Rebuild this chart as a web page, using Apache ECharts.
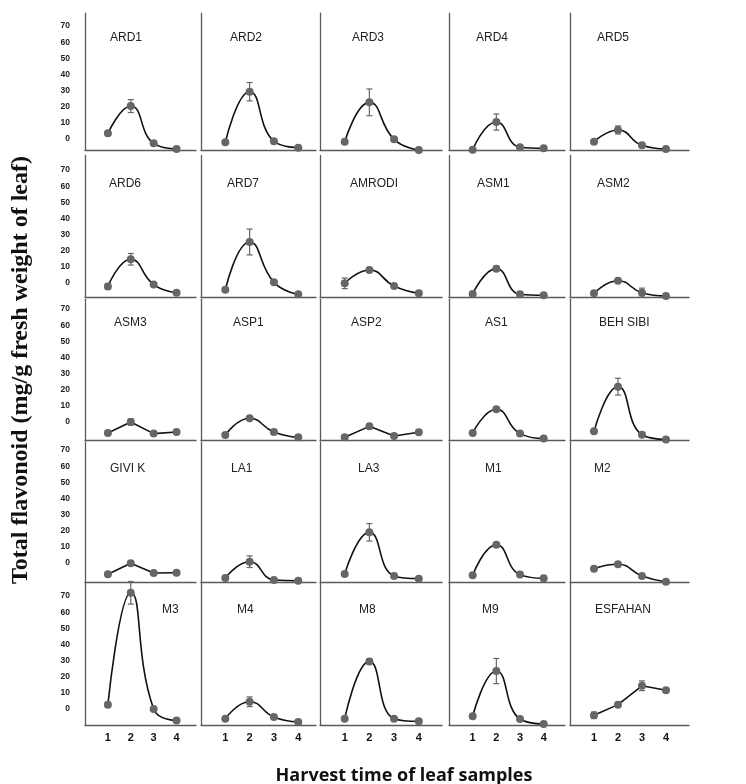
<!DOCTYPE html>
<html>
<head>
<meta charset="utf-8">
<script src="https://cdn.jsdelivr.net/npm/echarts@6/dist/echarts.min.js"></script>
<style>
  html, body { margin: 0; padding: 0; background: #fff; }
  #main { width: 746px; height: 784px; }
</style>
</head>
<body>
<div id="main"></div>
<script>
// cultivar names, row by row (5 x 5 panels)
var panelNames = [
  'ARD1', 'ARD2', 'ARD3', 'ARD4', 'ARD5',
  'ARD6', 'ARD7', 'AMRODI', 'ASM1', 'ASM2',
  'ASM3', 'ASP1', 'ASP2', 'AS1', 'BEH SIBI',
  'GIVI K', 'LA1', 'LA3', 'M1', 'M2',
  'M3', 'M4', 'M8', 'M9', 'ESFAHAN'
];
// harvest times 1..4
var harvestTimes = [1, 2, 3, 4];
// mean total flavonoid per panel (read against the printed tick labels)
var meanValues = [
  [3.5, 20.4, -2.7, -6.2],
  [-2, 29.3, -1.4, -5.4],
  [-1.7, 22.7, -0.2, -6.8],
  [-6.6, 10.5, -5.1, -5.8],
  [-1.7, 5.6, -3.9, -6.2],
  [-2.1, 14.7, -1, -6],
  [-4.2, 25.4, 0.4, -7],
  [-0.2, 8.1, -1.9, -6.4],
  [-6.8, 8.9, -7, -7.6],
  [-6.4, 1.4, -6, -8],
  [-6.8, 0, -7.2, -6.2],
  [-8, 2.3, -6.2, -9.5],
  [-9.5, -2.7, -8.7, -6.4],
  [-6.8, 7.9, -7.2, -10.3],
  [-5.8, 21.9, -7.9, -10.8],
  [-7, -0.2, -6.2, -6],
  [-9.3, 0.8, -10.5, -11],
  [-6.8, 19, -8, -9.7],
  [-7.6, 11.3, -7.2, -9.5],
  [-3.5, -0.8, -8, -11.6],
  [2.7, 72, 0, -7.2],
  [-6, 4.5, -5, -8],
  [-6, 29.5, -6, -7.6],
  [-4.5, 23.5, -6.2, -9.3],
  [-3.9, 2.7, 14.4, 11.6]
];
// standard error half-widths (0 = no visible bar)
var errValues = [
  [0, 4, 0, 0],
  [0, 5.7, 0, 0],
  [0, 8.3, 0, 0],
  [0, 5, 0, 0],
  [0, 2.5, 0, 0],
  [1.5, 3.6, 0, 0],
  [0, 8, 0, 0],
  [3.3, 0, 0, 0],
  [0, 1.5, 0, 0],
  [0, 1, 2.8, 0],
  [0, 2, 0, 0],
  [0, 1, 0, 0],
  [0, 0, 0, 0],
  [0, 0, 0, 0],
  [0, 5.2, 0, 0],
  [0, 0, 0, 0],
  [0, 3.6, 0, 0],
  [0, 5.4, 0, 0],
  [0, 0, 0, 0],
  [0, 0, 0, 0],
  [1.5, 7, 0, 0],
  [0, 3, 0, 0],
  [0, 1.5, 0, 0],
  [0, 7.8, 0, 0],
  [2, 1.5, 3, 0]
];
var yTickLabels = [0, 10, 20, 30, 40, 50, 60, 70];

// layout of the panel grid
var pxPerUnit = 1.614;
var rowZero = [139, 283, 422, 563, 709];
var rowMax = [78, 79, 76, 75, 78];
var rowMin = [-7, -9, -11, -12, -10];
var colLeft = [85, 201, 320, 449, 570];
var colWidth = [111, 115, 122, 116, 119];
var colXMax = [4.85, 4.73, 4.94, 4.9, 4.96];
var labelDx = [
  20, 24, 27, 22, 22,
  19, 21, 25, 23, 22,
  24, 27, 26, 31, 24,
  20, 25, 33, 31, 19,
  72, 31, 34, 28, 20
];
var rowLabelDy = [14, 17, 12, 16, 16];
var straightPanels = ['ASM3', 'ASP2', 'GIVI K', 'ESFAHAN'];

var chart = echarts.init(document.getElementById('main'));

var grids = [], xAxes = [], yAxes = [], series = [], titles = [];

function errorBar(params, api) {
  var x = api.value(0), m = api.value(1), e = api.value(2);
  var p1 = api.coord([x, m + e]);
  var p2 = api.coord([x, m - e]);
  var st = { stroke: '#666', lineWidth: 1.2 };
  return {
    type: 'group',
    children: [
      { type: 'line', shape: { x1: p1[0], y1: p1[1], x2: p2[0], y2: p2[1] }, style: st },
      { type: 'line', shape: { x1: p1[0] - 3, y1: p1[1], x2: p1[0] + 3, y2: p1[1] }, style: st },
      { type: 'line', shape: { x1: p2[0] - 3, y1: p2[1], x2: p2[0] + 3, y2: p2[1] }, style: st }
    ]
  };
}

for (var i = 0; i < panelNames.length; i++) {
  var r = Math.floor(i / 5), c = i % 5;
  var gridTop = rowZero[r] - rowMax[r] * pxPerUnit;
  var gridH = (rowMax[r] - rowMin[r]) * pxPerUnit;
  grids.push({ left: colLeft[c], top: gridTop, width: colWidth[c], height: gridH });

  xAxes.push({
    type: 'value', gridIndex: i, min: 0, max: colXMax[c], interval: 1,
    axisLine: { show: true, onZero: false, lineStyle: { color: '#5a5a5a', width: 1.3 } },
    axisTick: { show: false },
    splitLine: { show: false },
    axisLabel: {
      show: r === 4,
      color: '#111', fontSize: 11, fontWeight: 'bold',
      fontFamily: 'Liberation Sans', margin: 7,
      formatter: function (v) {
        return harvestTimes.indexOf(v) >= 0 ? String(v) : '';
      }
    }
  });

  yAxes.push({
    type: 'value', gridIndex: i, min: rowMin[r], max: rowMax[r], interval: 1,
    axisLine: { show: true, onZero: false, lineStyle: { color: '#5a5a5a', width: 1.3 } },
    axisTick: { show: false },
    splitLine: { show: false },
    axisLabel: {
      show: c === 0,
      color: '#222', fontSize: 8.5, fontWeight: 'bold',
      fontFamily: 'Liberation Sans', margin: 15,
      formatter: function (v) {
        return yTickLabels.indexOf(v) >= 0 ? String(v) : '';
      }
    }
  });

  titles.push({
    text: panelNames[i],
    left: colLeft[c] + labelDx[i],
    top: gridTop + rowLabelDy[r],
    textStyle: { fontSize: 12, fontWeight: 'normal', color: '#222', fontFamily: 'Liberation Sans' }
  });

  var lineData = [], errData = [];
  for (var j = 0; j < harvestTimes.length; j++) {
    lineData.push([harvestTimes[j], meanValues[i][j]]);
    if (errValues[i][j] > 0) {
      errData.push([harvestTimes[j], meanValues[i][j], errValues[i][j]]);
    }
  }

  series.push({
    type: 'line', xAxisIndex: i, yAxisIndex: i,
    data: lineData,
    smooth: straightPanels.indexOf(panelNames[i]) >= 0 ? false : 0.5,
    symbol: 'circle', symbolSize: 8,
    itemStyle: { color: '#666' },
    lineStyle: { color: '#111', width: 1.6 },
    silent: true
  });

  series.push({
    type: 'custom', xAxisIndex: i, yAxisIndex: i,
    data: errData, z: 5, silent: true,
    renderItem: errorBar
  });
}

var option = {
  animation: false,
  backgroundColor: '#fff',
  title: titles,
  grid: grids,
  xAxis: xAxes,
  yAxis: yAxes,
  series: series,
  graphic: [
    {
      type: 'text', x: 21, y: 370, rotation: Math.PI / 2,
      style: {
        text: 'Total flavonoid (mg/g fresh weight of leaf)',
        font: 'bold 24px "Liberation Serif"',
        fill: '#111', align: 'center', verticalAlign: 'middle'
      }
    },
    {
      type: 'text', x: 404, y: 776,
      style: {
        text: 'Harvest time of leaf samples',
        font: 'bold 18px "Open Sans"',
        fill: '#111', align: 'center', verticalAlign: 'middle'
      }
    }
  ]
};

chart.setOption(option);
window.addEventListener('resize', function () {
  chart.resize();
});
</script>
</body>
</html>
